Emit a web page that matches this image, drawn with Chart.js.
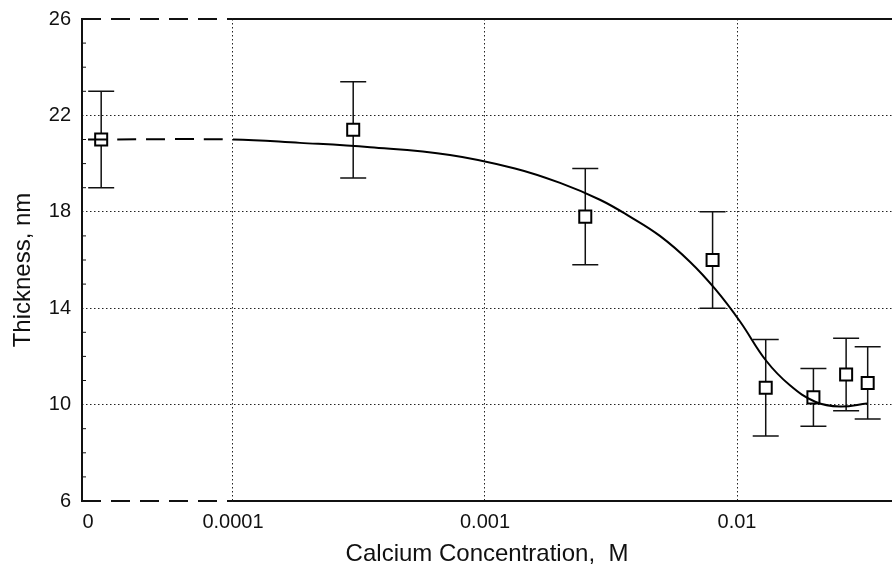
<!DOCTYPE html>
<html>
<head>
<meta charset="utf-8">
<script src="https://cdn.jsdelivr.net/npm/chart.js@4.4.1/dist/chart.umd.min.js"></script>
<style>
  html, body { margin: 0; padding: 0; background: #fff; }
  #wrap { width: 892px; height: 574px; }
</style>
</head>
<body>
<div id="wrap"><canvas id="chart" width="892" height="574"></canvas></div>
<script>
// measured points (calcium concentration in M, thickness in nm)
const pointConc = [3.0e-5, 3.0e-4, 2.5e-3, 8.0e-3, 1.3e-2, 2.01e-2, 2.71e-2, 3.3e-2];
const thickness = [21.0, 21.4, 17.8, 16.0, 10.7, 10.3, 11.25, 10.9];
const thicknessErr = [2.0, 2.0, 2.0, 2.0, 2.0, 1.2, 1.5, 1.5];

// fitted curve (first segment is the dashed "zero" part)
const fitConc = [2.66e-5, 1.0e-4, 1.845e-4, 3.5e-4, 7.26e-4, 1.315e-3, 1.986e-3, 2.858e-3,
                 3.758e-3, 4.943e-3, 6.501e-3, 8.185e-3, 1.028e-2, 1.303e-2, 1.622e-2,
                 2.042e-2, 2.564e-2, 3.281e-2];
const fitThickness = [21.0, 21.0, 20.86, 20.68, 20.36, 19.8, 19.2, 18.5,
                      17.8, 17.0, 15.93, 14.8, 13.45, 11.83, 10.8,
                      10.12, 9.92, 10.05];

// axis ticks; the first x tick stands for zero concentration
const xTickValues = [2.66e-5, 1e-4, 1e-3, 1e-2];
const xTickLabels = ["0", "0.0001", "0.001", "0.01"];
const yTickValues = [6, 10, 14, 18, 22, 26];

const FONT = "'Liberation Sans', Arial, Helvetica, sans-serif";
const INK = "#111";

const frameAndErrors = {
    id: "frameAndErrors",
    beforeDatasetsDraw(chart) {
        const { ctx, chartArea: a, scales: { x, y } } = chart;
        ctx.save();
        ctx.strokeStyle = INK;

        // error bars
        ctx.lineWidth = 1.5;
        pointConc.forEach((c, i) => {
            const px = x.getPixelForValue(c);
            const top = y.getPixelForValue(thickness[i] + thicknessErr[i]);
            const bot = y.getPixelForValue(thickness[i] - thicknessErr[i]);
            ctx.beginPath();
            ctx.moveTo(px, top); ctx.lineTo(px, bot);
            ctx.moveTo(px - 13, top); ctx.lineTo(px + 13, top);
            ctx.moveTo(px - 13, bot); ctx.lineTo(px + 13, bot);
            ctx.stroke();
        });

        // minor ticks on the left axis
        ctx.lineWidth = 1;
        for (let v = 7; v < 26; v++) {
            if (yTickValues.includes(v)) continue;
            const py = y.getPixelForValue(v);
            ctx.beginPath();
            ctx.moveTo(a.left, py); ctx.lineTo(a.left + 4, py);
            ctx.stroke();
        }

        // frame: dashed across the break, solid after 0.0001
        const brk = x.getPixelForValue(1e-4);
        ctx.lineWidth = 2;
        [a.top, a.bottom].forEach(py => {
            ctx.setLineDash([19, 10]);
            ctx.beginPath();
            ctx.moveTo(a.left, py); ctx.lineTo(brk, py);
            ctx.stroke();
            ctx.setLineDash([]);
            ctx.beginPath();
            ctx.moveTo(brk, py); ctx.lineTo(a.right, py);
            ctx.stroke();
        });
        ctx.beginPath();
        ctx.moveTo(a.left, a.top - 1); ctx.lineTo(a.left, a.bottom + 1);
        ctx.stroke();
        ctx.restore();
    }
};

new Chart(document.getElementById("chart"), {
    type: "scatter",
    plugins: [frameAndErrors],
    data: {
        datasets: [
            {
                type: "line",
                data: fitConc.map((c, i) => ({ x: c, y: fitThickness[i] })),
                borderColor: "#000",
                borderWidth: 2,
                pointRadius: 0,
                fill: false,
                tension: 0.4,
                segment: {
                    borderDash: c => c.p1.parsed.x <= 1.0001e-4 ? [19, 10] : undefined
                }
            },
            {
                data: pointConc.map((c, i) => ({ x: c, y: thickness[i] })),
                pointStyle: "rect",
                pointRadius: 8.5,
                pointBorderWidth: 2,
                pointBackgroundColor: "#fff",
                pointBorderColor: "#000"
            }
        ]
    },
    options: {
        responsive: false,
        animation: false,
        events: [],
        layout: { autoPadding: false, padding: { top: 19, right: 0, left: 0, bottom: 0 } },
        plugins: { legend: { display: false }, tooltip: { enabled: false } },
        scales: {
            x: {
                type: "logarithmic",
                min: Math.pow(10, -4.599),
                max: Math.pow(10, -1.385),
                afterBuildTicks: s => { s.ticks = xTickValues.map(v => ({ value: v })); },
                afterFit: s => { s.height = 73; s.paddingLeft = 0; s.paddingRight = 0; },
                border: { display: false, dash: [1.5, 2.5] },
                grid: {
                    drawTicks: false,
                    lineWidth: 1,
                    color: c => (c.tick && c.tick.value > 5e-5) ? "#222" : "rgba(0,0,0,0)"
                },
                ticks: {
                    autoSkip: false,
                    maxRotation: 0,
                    padding: 9,
                    color: INK,
                    font: { family: FONT, size: 20 },
                    callback: (v, i) => xTickLabels[i]
                },
                title: {
                    display: true,
                    text: "Calcium Concentration,  M",
                    color: INK,
                    font: { family: FONT, size: 24 },
                    padding: { top: 0, bottom: 5 }
                }
            },
            y: {
                min: 6,
                max: 26,
                afterBuildTicks: s => { s.ticks = yTickValues.map(v => ({ value: v })); },
                afterFit: s => { s.width = 82; s.paddingTop = 0; s.paddingBottom = 0; },
                border: { display: false, dash: [1.5, 2.5] },
                grid: {
                    drawTicks: false,
                    lineWidth: 1,
                    color: c => (c.tick && c.tick.value > 6 && c.tick.value < 26) ? "#222" : "rgba(0,0,0,0)"
                },
                ticks: {
                    padding: 11,
                    color: INK,
                    font: { family: FONT, size: 20 }
                },
                title: {
                    display: true,
                    text: "Thickness, nm   ",
                    color: INK,
                    font: { family: FONT, size: 24 },
                    padding: { top: 9, bottom: 0 }
                }
            }
        }
    }
});
</script>
</body>
</html>
